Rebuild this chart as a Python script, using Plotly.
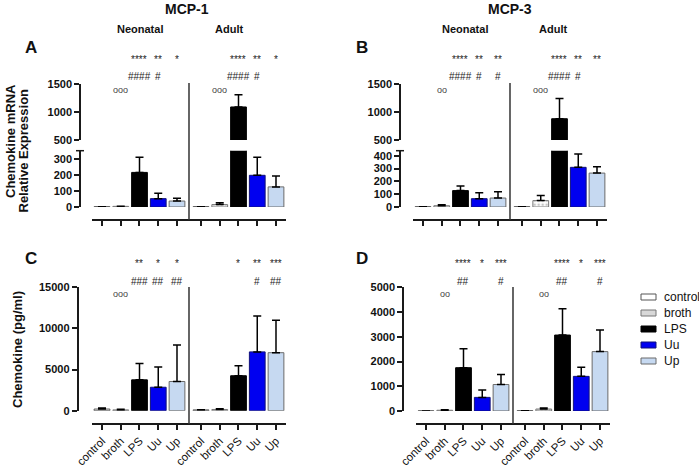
import plotly.graph_objects as go

treatments = ["control", "broth", "LPS", "Uu", "Up"]

# A: MCP-1 mRNA (relative expression), mean and upper SEM
a_neo = [2, 4, 215, 52, 37]
a_neo_err = [0, 1, 95, 33, 18]
a_adu = [2, 15, 1090, 197, 125]
a_adu_err = [0, 12, 220, 113, 67]

# B: MCP-3 mRNA
b_neo = [2, 10, 128, 65, 70]
b_neo_err = [0, 8, 37, 47, 50]
b_adu = [2, 50, 880, 310, 265]
b_adu_err = [0, 40, 360, 105, 50]

# C: MCP-1 protein (pg/ml)
c_neo = [200, 100, 3750, 2850, 3550]
c_neo_err = [130, 80, 2000, 2450, 4450]
c_adu = [100, 150, 4250, 7150, 7050]
c_adu_err = [30, 100, 1200, 4350, 3950]

# D: MCP-3 protein (pg/ml)
d_neo = [5, 30, 1750, 550, 1070]
d_neo_err = [0, 20, 770, 300, 410]
d_adu = [10, 80, 3070, 1400, 2400]
d_adu_err = [0, 40, 1060, 370, 870]

# significance marks (neonatal, adult)
a_stars = [["", "", "****", "**", "*"], ["", "", "****", "**", "*"]]
a_hash = [["", "", "####", "#", ""], ["", "", "####", "#", ""]]
a_circ = ["ooo", "ooo"]
b_stars = [["", "", "****", "**", "**"], ["", "", "****", "**", "**"]]
b_hash = [["", "", "####", "#", "#"], ["", "", "####", "#", ""]]
b_circ = ["oo", "ooo"]
c_stars = [["", "", "**", "*", "*"], ["", "", "*", "**", "***"]]
c_hash = [["", "", "###", "##", "##"], ["", "", "", "#", "##"]]
c_circ = ["ooo", ""]
d_stars = [["", "", "****", "*", "***"], ["", "", "****", "*", "***"]]
d_hash = [["", "", "##", "", "#"], ["", "", "##", "", "#"]]
d_circ = ["oo", "oo"]

fills = ["white", "white", "black", "#0000f0", "#c6d9f1"]
edges = ["#555555", "#777777", "black", "#10107a", "#6a6a6a"]
legend_fills = ["white", "#d8d8d8", "black", "#0000f0", "#c6d9f1"]

FONT = "Liberation Sans, Arial, sans-serif"
W, H = 699, 468
GAP = 5.28
pos = list(range(5)) + [i + GAP for i in range(5)]
mid = (4 + GAP) / 2
XR = [-0.55, 9.83]


def px(x):
    return x / W


def py(y):
    return 1 - y / H


fig = go.Figure()


def add_bars(neo, neo_err, adu, adu_err, xa, ya):
    for i, t in enumerate(treatments):
        pattern = dict(shape=".", fgcolor="#8a8a8a", bgcolor="white", size=4, solidity=0.35) if t == "broth" else None
        fig.add_trace(go.Bar(
            x=[pos[i], pos[i + 5]], y=[neo[i], adu[i]],
            width=0.84, name=t, showlegend=False,
            xaxis=xa, yaxis=ya,
            marker=dict(color=fills[i], line=dict(color=edges[i], width=1), pattern=pattern),
            error_y=dict(type="data", symmetric=False, array=[neo_err[i], adu_err[i]],
                         arrayminus=[0, 0], color="black", thickness=1.5, width=4),
        ))


add_bars(a_neo, a_neo_err, a_adu, a_adu_err, "x", "y")
add_bars(a_neo, a_neo_err, a_adu, a_adu_err, "x", "y2")
add_bars(b_neo, b_neo_err, b_adu, b_adu_err, "x2", "y3")
add_bars(b_neo, b_neo_err, b_adu, b_adu_err, "x2", "y4")
add_bars(c_neo, c_neo_err, c_adu, c_adu_err, "x3", "y5")
add_bars(d_neo, d_neo_err, d_adu, d_adu_err, "x4", "y6")

axis_common = dict(showline=True, linewidth=1.5, linecolor="#1a1a1a", ticks="outside",
                   ticklen=5, tickwidth=1.5, tickcolor="#1a1a1a", showgrid=False,
                   zeroline=False, automargin=False, fixedrange=True)


def xaxis(first_tick, ypos, labels):
    left = first_tick + XR[0] * 18.75
    right = first_tick + XR[1] * 18.75
    d = dict(axis_common, domain=[px(left), px(right)], range=XR, anchor="free",
             position=py(ypos), tickvals=pos)
    if labels:
        d.update(ticktext=treatments * 2, tickangle=-45, tickfont=dict(size=11.5, color="#111"))
    else:
        d.update(showticklabels=False)
    return d


def yaxis(xpos, top, bottom, rng, tv):
    return dict(axis_common, domain=[py(bottom), py(top)], range=rng, anchor="free",
                position=px(xpos), tickvals=tv, tickformat="d",
                tickfont=dict(size=11, weight="bold", color="#111"))


fig.update_layout(
    xaxis=xaxis(102, 220, False),
    xaxis2=xaxis(423, 220, False),
    xaxis3=xaxis(102, 424, True),
    xaxis4=xaxis(426, 424, True),
    yaxis=yaxis(80, 150.7, 207, [0, 350], [0, 100, 200, 300]),
    yaxis2=yaxis(80, 84, 140, [500, 1500], [500, 1000, 1500]),
    yaxis3=yaxis(400, 150.7, 207, [0, 440], [0, 100, 200, 300, 400]),
    yaxis4=yaxis(400, 84, 140, [500, 1500], [500, 1000, 1500]),
    yaxis5=yaxis(77.5, 287.3, 410.7, [0, 15000], [0, 5000, 10000, 15000]),
    yaxis6=yaxis(403, 287.3, 411, [0, 5000], [0, 1000, 2000, 3000, 4000, 5000]),
)

# group dividers and axis-break marks
for xr, top, bottom in [("x", 83, 220), ("x2", 83, 220), ("x3", 287, 424), ("x4", 287, 424)]:
    fig.add_shape(type="line", xref=xr, yref="paper", x0=mid, x1=mid, y0=py(bottom), y1=py(top),
                  line=dict(color="#333", width=1.5))
for xa in [80, 400]:
    fig.add_shape(type="line", xref="paper", yref="paper", x0=px(xa - 4), x1=px(xa + 4),
                  y0=py(150.7), y1=py(150.7), line=dict(color="#1a1a1a", width=1.5))

anns = []


def label(text, x, y, size, bold=True, xanchor="center", **kw):
    anns.append(dict(text=text, x=x, y=y, xref="paper", yref="paper", showarrow=False,
                     xanchor=xanchor, yanchor="middle",
                     font=dict(size=size, family=FONT, color="#111", weight="bold" if bold else "normal"),
                     **kw))


label("MCP-1", px(187), py(9), 14)
label("MCP-3", px(510), py(9), 14)
for x, t in [(140, "Neonatal"), (229, "Adult"), (465, "Neonatal"), (553, "Adult")]:
    label(t, px(x), py(29), 11)
for x, y, t in [(31, 48, "A"), (362, 48, "B"), (31, 258, "C"), (362, 258, "D")]:
    label(t, px(x), py(y), 17)
label("Chemokine mRNA", px(10), py(141), 13, textangle=-90)
label("Relative Expression", px(23.5), py(151), 13, textangle=-90)
label("Chemokine (pg/ml)", px(17), py(350), 13, textangle=-90)

# legend drawn by hand: small flat swatches, 16 px apart
for i, t in enumerate(treatments):
    yc = 297 + 16 * i
    fig.add_shape(type="rect", xref="paper", yref="paper", x0=px(641), x1=px(656),
                  y0=py(yc + 3), y1=py(yc - 3), fillcolor=legend_fills[i],
                  line=dict(color=edges[i], width=1))
    label(t, px(662), py(yc), 12, bold=False, xanchor="left")


def sig(xr, stars, hashes, circ, ys, yh, yc):
    for g in range(2):
        for i in range(5):
            x = pos[i + 5 * g]
            for txt, yy in [(stars[g][i], ys), (hashes[g][i], yh)]:
                if txt:
                    anns.append(dict(text=txt, x=x, y=py(yy), xref=xr, yref="paper", showarrow=False,
                                     xanchor="center", yanchor="middle",
                                     font=dict(size=10, family=FONT, color="#222")))
        if circ[g]:
            anns.append(dict(text=circ[g], x=pos[1 + 5 * g], y=py(yc), xref=xr, yref="paper",
                             showarrow=False, xanchor="center", yanchor="middle",
                             font=dict(size=9, family=FONT, color="#444")))


sig("x", a_stars, a_hash, a_circ, 60, 77, 90)
sig("x2", b_stars, b_hash, b_circ, 60, 77, 90)
sig("x3", c_stars, c_hash, c_circ, 263, 281, 294)
sig("x4", d_stars, d_hash, d_circ, 263, 281, 294)

fig.update_layout(
    annotations=anns,
    width=W, height=H,
    margin=dict(l=0, r=0, t=0, b=0),
    barmode="overlay",
    showlegend=False,
    paper_bgcolor="white", plot_bgcolor="white",
    font=dict(family=FONT, color="#111"),
)

# the page body has a default 8px margin; drop it so the figure fills the window
fig.write_html("out.html", config={"displayModeBar": False},
               post_script="document.body.style.margin='0';")
